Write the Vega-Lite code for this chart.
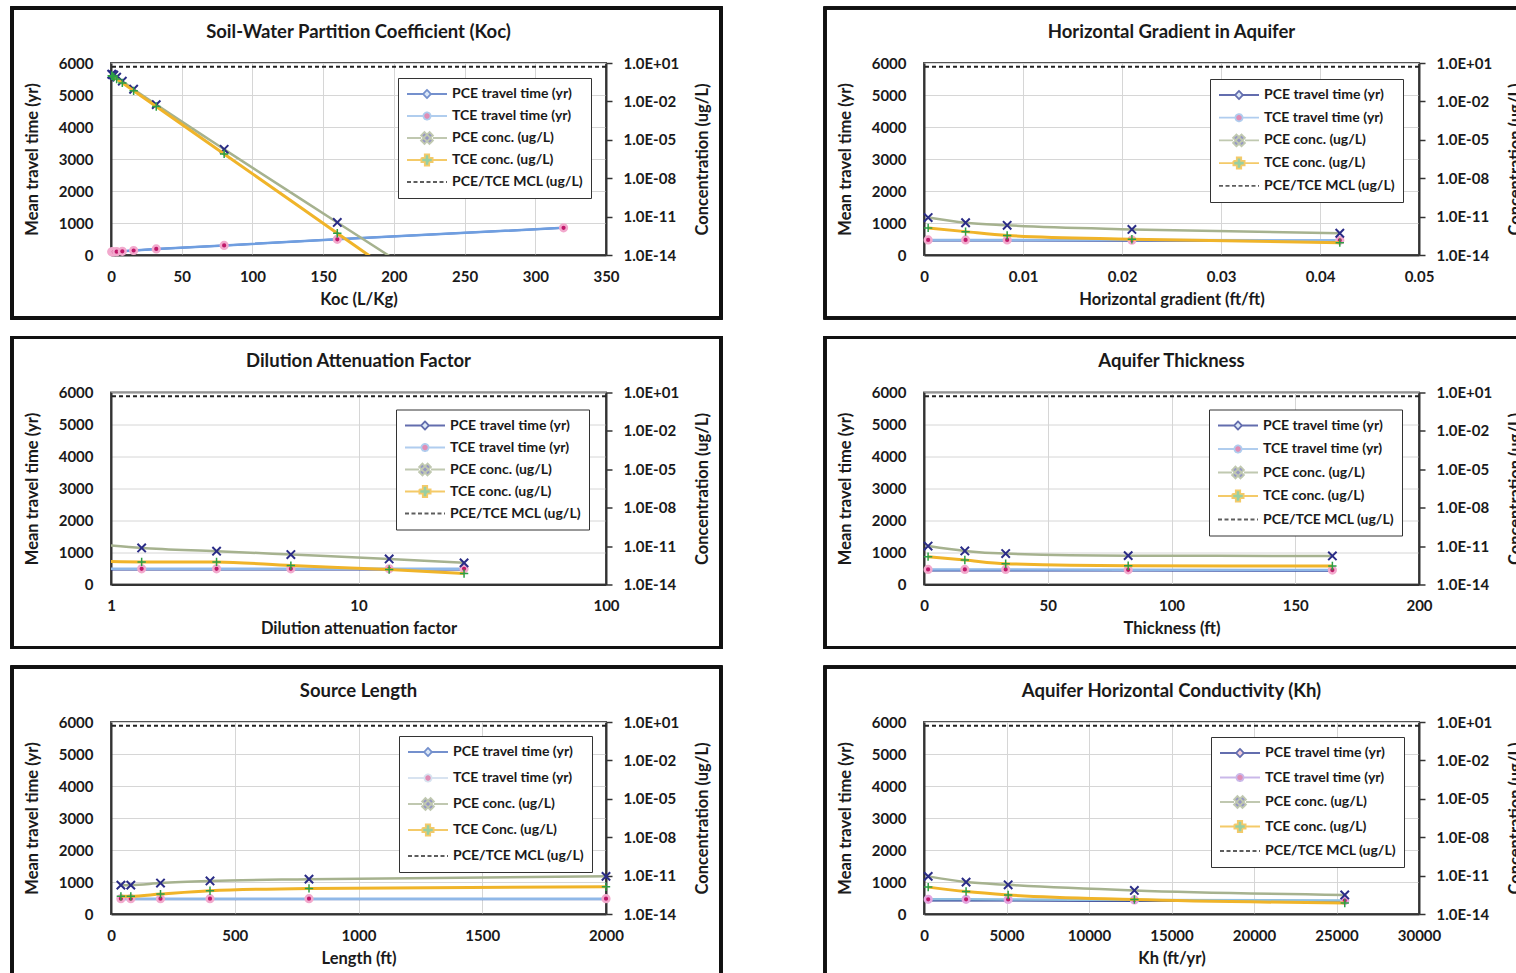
{
  "$schema": "https://vega.github.io/schema/vega-lite/v6.json",
  "background": "white",
  "padding": {"left": 9, "top": 5, "right": 0, "bottom": 0},
  "datasets": {
    "pts": [
      {"panel": "koc", "x": 0.5, "pce_tt": 100, "tce_tt": 100, "pce_c": 1.33, "tce_c": 1.0},
      {"panel": "koc", "x": 1, "pce_tt": 100, "tce_tt": 100, "pce_c": 1.26, "tce_c": 0.94},
      {"panel": "koc", "x": 2, "pce_tt": 100, "tce_tt": 100, "pce_c": 1.12, "tce_c": 0.79},
      {"panel": "koc", "x": 4, "pce_tt": 105, "tce_tt": 105, "pce_c": 0.79, "tce_c": 0.56},
      {"panel": "koc", "x": 8, "pce_tt": 115, "tce_tt": 115, "pce_c": 0.38, "tce_c": 0.28},
      {"panel": "koc", "x": 16, "pce_tt": 140, "tce_tt": 140, "pce_c": 0.089, "tce_c": 0.067},
      {"panel": "koc", "x": 32, "pce_tt": 190, "tce_tt": 190, "pce_c": 0.0056, "tce_c": 0.004},
      {"panel": "koc", "x": 80, "pce_tt": 300, "tce_tt": 300, "pce_c": 1.8e-6, "tce_c": 7.9e-7},
      {"panel": "koc", "x": 160, "pce_tt": 490, "tce_tt": 490, "pce_c": 3.5e-12, "tce_c": 5e-13},
      {"panel": "koc", "x": 320, "pce_tt": 850, "tce_tt": 850, "pce_c": 1.4e-23, "tce_c": 2e-25},
      {"panel": "grad", "x": 0.00042, "pce_tt": 450, "tce_tt": 470, "pce_c": 8.4e-12, "tce_c": 1.3e-12},
      {"panel": "grad", "x": 0.0042, "pce_tt": 450, "tce_tt": 470, "pce_c": 3.3e-12, "tce_c": 6.7e-13},
      {"panel": "grad", "x": 0.0084, "pce_tt": 450, "tce_tt": 470, "pce_c": 2.1e-12, "tce_c": 3.4e-13},
      {"panel": "grad", "x": 0.021, "pce_tt": 445, "tce_tt": 465, "pce_c": 1.0e-12, "tce_c": 1.7e-13},
      {"panel": "grad", "x": 0.042, "pce_tt": 440, "tce_tt": 460, "pce_c": 5.0e-13, "tce_c": 9.2e-14},
      {"panel": "daf", "x": 1, "pce_tt": 470, "tce_tt": 490, "pce_c": 1.1e-11, "tce_c": 6.2e-13},
      {"panel": "daf", "x": 1.33, "pce_tt": 470, "tce_tt": 490, "pce_c": 7.2e-12, "tce_c": 5.8e-13},
      {"panel": "daf", "x": 2.67, "pce_tt": 470, "tce_tt": 490, "pce_c": 4.0e-12, "tce_c": 5.8e-13},
      {"panel": "daf", "x": 5.33, "pce_tt": 470, "tce_tt": 490, "pce_c": 2.2e-12, "tce_c": 3.0e-13},
      {"panel": "daf", "x": 13.3, "pce_tt": 470, "tce_tt": 490, "pce_c": 1.0e-12, "tce_c": 1.5e-13},
      {"panel": "daf", "x": 26.7, "pce_tt": 470, "tce_tt": 490, "pce_c": 4.9e-13, "tce_c": 7.2e-14},
      {"panel": "thick", "x": 1.65, "pce_tt": 440, "tce_tt": 470, "pce_c": 1.0e-11, "tce_c": 1.5e-12},
      {"panel": "thick", "x": 16.5, "pce_tt": 440, "tce_tt": 470, "pce_c": 4.2e-12, "tce_c": 8.2e-13},
      {"panel": "thick", "x": 33, "pce_tt": 440, "tce_tt": 470, "pce_c": 2.6e-12, "tce_c": 4.2e-13},
      {"panel": "thick", "x": 82.5, "pce_tt": 435, "tce_tt": 460, "pce_c": 1.8e-12, "tce_c": 2.9e-13},
      {"panel": "thick", "x": 165, "pce_tt": 430, "tce_tt": 450, "pce_c": 1.7e-12, "tce_c": 2.8e-13},
      {"panel": "len", "x": 40, "pce_tt": 460, "tce_tt": 480, "pce_c": 1.8e-12, "tce_c": 2.4e-13},
      {"panel": "len", "x": 80, "pce_tt": 460, "tce_tt": 480, "pce_c": 1.8e-12, "tce_c": 2.4e-13},
      {"panel": "len", "x": 200, "pce_tt": 460, "tce_tt": 480, "pce_c": 2.6e-12, "tce_c": 3.6e-13},
      {"panel": "len", "x": 400, "pce_tt": 460, "tce_tt": 480, "pce_c": 3.8e-12, "tce_c": 6.6e-13},
      {"panel": "len", "x": 800, "pce_tt": 460, "tce_tt": 480, "pce_c": 5.3e-12, "tce_c": 1.0e-12},
      {"panel": "len", "x": 2000, "pce_tt": 460, "tce_tt": 480, "pce_c": 8.7e-12, "tce_c": 1.35e-12},
      {"panel": "kh", "x": 255, "pce_tt": 420, "tce_tt": 460, "pce_c": 8.7e-12, "tce_c": 1.26e-12},
      {"panel": "kh", "x": 2550, "pce_tt": 420, "tce_tt": 460, "pce_c": 3.1e-12, "tce_c": 5.7e-13},
      {"panel": "kh", "x": 5100, "pce_tt": 420, "tce_tt": 455, "pce_c": 1.9e-12, "tce_c": 3.1e-13},
      {"panel": "kh", "x": 12750, "pce_tt": 410, "tce_tt": 440, "pce_c": 6.9e-13, "tce_c": 1.35e-13},
      {"panel": "kh", "x": 25500, "pce_tt": 400, "tce_tt": 420, "pce_c": 3.1e-13, "tce_c": 7.3e-14}
    ],
    "mcl": [
      {"panel": "koc", "mcl": 5},
      {"panel": "grad", "mcl": 5},
      {"panel": "daf", "mcl": 5},
      {"panel": "thick", "mcl": 5},
      {"panel": "len", "mcl": 5},
      {"panel": "kh", "mcl": 5}
    ]
  },
  "data": {"name": "pts"},
  "spacing": 13.5,
  "resolve": {"scale": {"stroke": "independent", "fill": "independent", "shape": "independent", "strokeDash": "independent"}},
  "vconcat": [
    {
      "spacing": 98,
      "resolve": {"scale": {"stroke": "independent", "fill": "independent", "shape": "independent", "strokeDash": "independent"}},
      "hconcat": [
        {
          "title": {"text": "Soil-Water Partition Coefficient (Koc)"},
          "width": 495, "height": 192,
          "transform": [{"filter": "datum.panel === 'koc'"}],
          "layer": [
            {
              "encoding": {"x": {"field": "x", "type": "quantitative", "scale": {"domain": [0, 350], "nice": false, "zero": false}, "axis": {"values": [0, 50, 100, 150, 200, 250, 300, 350], "format": "d", "title": "Koc (L/Kg)"}}},
              "layer": [
                {"mark": {"type": "rect", "filled": false, "stroke": "#111", "strokeWidth": 3, "clip": false},
                 "encoding": {"x": {"datum": -70, "type": "quantitative", "scale": {"domain": [0, 350], "nice": false, "zero": false}, "axis": {"values": [0, 50, 100, 150, 200, 250, 300, 350], "format": "d", "title": "Koc (L/Kg)"}}, "x2": {"datum": 431.3},
                   "y": {"datum": 7719, "type": "quantitative", "scale": {"domain": [0, 6000], "nice": false, "zero": false}, "axis": {"orient": "left", "values": [0, 1000, 2000, 3000, 4000, 5000, 6000], "format": "d", "title": "Mean travel time (yr)"}}, "y2": {"datum": -1969}}},
                {"mark": {"type": "line", "color": "#4a72c0", "strokeWidth": 2},
                 "encoding": {"y": {"field": "pce_tt", "type": "quantitative", "scale": {"domain": [0, 6000], "nice": false, "zero": false}, "axis": {"orient": "left", "values": [0, 1000, 2000, 3000, 4000, 5000, 6000], "format": "d", "title": "Mean travel time (yr)"}}}},
                {"mark": {"type": "point", "shape": "diamond", "filled": true, "color": "#a9c6ee", "size": 25, "opacity": 1},
                 "encoding": {"y": {"field": "pce_tt", "type": "quantitative", "scale": {"domain": [0, 6000], "nice": false, "zero": false}, "axis": {"orient": "left", "values": [0, 1000, 2000, 3000, 4000, 5000, 6000], "format": "d", "title": "Mean travel time (yr)"}}}},
                {"mark": {"type": "line", "color": "#6f9ee0", "strokeWidth": 2.5},
                 "encoding": {"y": {"field": "tce_tt", "type": "quantitative", "scale": {"domain": [0, 6000], "nice": false, "zero": false}, "axis": {"orient": "left", "values": [0, 1000, 2000, 3000, 4000, 5000, 6000], "format": "d", "title": "Mean travel time (yr)"}}}},
                {"mark": {"type": "point", "shape": "circle", "filled": true, "fill": "#c0186a", "stroke": "#f2a9cd", "strokeWidth": 2.5, "size": 45, "opacity": 1},
                 "encoding": {"y": {"field": "tce_tt", "type": "quantitative", "scale": {"domain": [0, 6000], "nice": false, "zero": false}, "axis": {"orient": "left", "values": [0, 1000, 2000, 3000, 4000, 5000, 6000], "format": "d", "title": "Mean travel time (yr)"}}}}
              ]
            },
            {
              "encoding": {"x": {"field": "x", "type": "quantitative", "scale": {"domain": [0, 350], "nice": false, "zero": false}, "axis": {"values": [0, 50, 100, 150, 200, 250, 300, 350], "format": "d", "title": "Koc (L/Kg)"}}},
              "layer": [
                {"mark": {"type": "line", "color": "#a6b28f", "strokeWidth": 2.5, "interpolate": "monotone", "clip": true},
                 "encoding": {"y": {"field": "pce_c", "type": "quantitative", "scale": {"type": "log", "domain": [1e-14, 10], "nice": false}, "axis": {"orient": "right", "values": [1e-14, 1e-11, 1e-8, 1e-5, 0.01, 10], "title": "Concentration (ug/L)", "titleAngle": 270, "labelExpr": "'1.0E' + (round(log(datum.value) / LN10) >= 0 ? '+' : '-') + pad(toString(abs(round(log(datum.value) / LN10))), 2, '0', 'left')"}}}},
                {"transform": [{"filter": "datum.pce_c >= 1e-14"}],
                 "mark": {"type": "point", "shape": "M-1,-1L1,1M-1,1L1,-1", "filled": false, "color": "#2a2c86", "strokeWidth": 2, "size": 70, "opacity": 1},
                 "encoding": {"y": {"field": "pce_c", "type": "quantitative", "scale": {"type": "log", "domain": [1e-14, 10], "nice": false}, "axis": {"orient": "right", "values": [1e-14, 1e-11, 1e-8, 1e-5, 0.01, 10], "title": "Concentration (ug/L)", "titleAngle": 270, "labelExpr": "'1.0E' + (round(log(datum.value) / LN10) >= 0 ? '+' : '-') + pad(toString(abs(round(log(datum.value) / LN10))), 2, '0', 'left')"}}}},
                {"mark": {"type": "line", "color": "#f0b429", "strokeWidth": 3, "interpolate": "monotone", "clip": true},
                 "encoding": {"y": {"field": "tce_c", "type": "quantitative", "scale": {"type": "log", "domain": [1e-14, 10], "nice": false}, "axis": {"orient": "right", "values": [1e-14, 1e-11, 1e-8, 1e-5, 0.01, 10], "title": "Concentration (ug/L)", "titleAngle": 270, "labelExpr": "'1.0E' + (round(log(datum.value) / LN10) >= 0 ? '+' : '-') + pad(toString(abs(round(log(datum.value) / LN10))), 2, '0', 'left')"}}}},
                {"transform": [{"filter": "datum.tce_c >= 1e-14"}],
                 "mark": {"type": "point", "shape": "M-1,0H1M0,-1V1", "filled": false, "color": "#2e9e46", "strokeWidth": 1.5, "size": 70, "opacity": 1},
                 "encoding": {"y": {"field": "tce_c", "type": "quantitative", "scale": {"type": "log", "domain": [1e-14, 10], "nice": false}, "axis": {"orient": "right", "values": [1e-14, 1e-11, 1e-8, 1e-5, 0.01, 10], "title": "Concentration (ug/L)", "titleAngle": 270, "labelExpr": "'1.0E' + (round(log(datum.value) / LN10) >= 0 ? '+' : '-') + pad(toString(abs(round(log(datum.value) / LN10))), 2, '0', 'left')"}}}},
                {"transform": [{"filter": "false"}],
                 "mark": {"type": "point", "filled": true, "strokeWidth": 1.8},
                 "encoding": {
                   "stroke": {"field": "series", "type": "nominal", "scale": {"domain": ["PCE travel time (yr)", "TCE travel time (yr)", "PCE conc. (ug/L)", "TCE conc. (ug/L)", "PCE/TCE MCL (ug/L)"], "range": ["#3a62b8", "#8fb8e8", "#a6b28f", "#f0b429", "#1a1a1a"]},
                     "legend": {"title": null, "orient": "top-right", "offset": 15, "padding": 8, "strokeColor": "#333", "fillColor": "#ffffff", "symbolSize": 1600, "symbolStrokeWidth": 1.8, "clipHeight": 16, "rowPadding": 6, "labelFont": "Lato", "labelFontSize": 14, "labelFontWeight": "bold", "labelColor": "#1a1a1a", "labelOffset": 4, "labelLimit": 300}},
                   "fill": {"field": "series", "type": "nominal", "scale": {"domain": ["PCE travel time (yr)", "TCE travel time (yr)", "PCE conc. (ug/L)", "TCE conc. (ug/L)", "PCE/TCE MCL (ug/L)"], "range": ["#b8d0f0", "#c0186a", "#2a2c86", "#2e9e46", "transparent"]},
                     "legend": {"title": null, "orient": "top-right", "offset": 15, "padding": 8, "strokeColor": "#333", "fillColor": "#ffffff", "symbolSize": 1600, "symbolStrokeWidth": 1.8, "clipHeight": 16, "rowPadding": 6, "labelFont": "Lato", "labelFontSize": 14, "labelFontWeight": "bold", "labelColor": "#1a1a1a", "labelOffset": 4, "labelLimit": 300}},
                   "shape": {"field": "series", "type": "nominal", "scale": {"domain": ["PCE travel time (yr)", "TCE travel time (yr)", "PCE conc. (ug/L)", "TCE conc. (ug/L)", "PCE/TCE MCL (ug/L)"], "range": ["M-1,0H-0.2M0.2,0H1M0,-0.2L0.2,0L0,0.2L-0.2,0Z", "M-1,0H-0.18M0.18,0H1M0.18,0A0.18,0.18 0 1,1 -0.18,0A0.18,0.18 0 1,1 0.18,0Z", "M-1,0H-0.3M0.3,0H1M0.127,0.297L0.297,0.127L-0.127,-0.297L-0.297,-0.127ZM0.127,-0.297L-0.297,0.127L-0.127,0.297L0.297,-0.127Z", "M-1,0H-0.28M0.28,0H1M-0.11,-0.28H0.11V-0.11H0.28V0.11H0.11V0.28H-0.11V0.11H-0.28V-0.11H-0.11Z", "M-1,0H1"]},
                     "legend": {"title": null, "orient": "top-right", "offset": 15, "padding": 8, "strokeColor": "#333", "fillColor": "#ffffff", "symbolSize": 1600, "symbolStrokeWidth": 1.8, "clipHeight": 16, "rowPadding": 6, "labelFont": "Lato", "labelFontSize": 14, "labelFontWeight": "bold", "labelColor": "#1a1a1a", "labelOffset": 4, "labelLimit": 300}},
                   "strokeDash": {"field": "series", "type": "nominal", "scale": {"domain": ["PCE travel time (yr)", "TCE travel time (yr)", "PCE conc. (ug/L)", "TCE conc. (ug/L)", "PCE/TCE MCL (ug/L)"], "range": [[1, 0], [1, 0], [1, 0], [1, 0], [4, 2.5]]},
                     "legend": {"title": null, "orient": "top-right", "offset": 15, "padding": 8, "strokeColor": "#333", "fillColor": "#ffffff", "symbolSize": 1600, "symbolStrokeWidth": 1.8, "clipHeight": 16, "rowPadding": 6, "labelFont": "Lato", "labelFontSize": 14, "labelFontWeight": "bold", "labelColor": "#1a1a1a", "labelOffset": 4, "labelLimit": 300}}
                 }}
              ]
            },
            {"data": {"name": "mcl"}, "transform": [{"filter": "datum.panel === 'koc'"}],
             "mark": {"type": "rule", "color": "#222", "strokeWidth": 2, "strokeDash": [4, 3]},
             "encoding": {"y": {"field": "mcl", "type": "quantitative", "scale": {"type": "log", "domain": [1e-14, 10], "nice": false}, "axis": null}}}
          ],
          "resolve": {"scale": {"y": "independent"}}
        },
        {
          "title": {"text": "Horizontal Gradient in Aquifer"},
          "width": 495, "height": 192,
          "transform": [{"filter": "datum.panel === 'grad'"}],
          "layer": [
            {
              "encoding": {"x": {"field": "x", "type": "quantitative", "scale": {"domain": [0, 0.05], "nice": false, "zero": false}, "axis": {"values": [0, 0.01, 0.02, 0.03, 0.04, 0.05], "format": ".2~f", "title": "Horizontal gradient (ft/ft)"}}},
              "layer": [
                {"mark": {"type": "rect", "filled": false, "stroke": "#111", "strokeWidth": 3, "clip": false},
                 "encoding": {"x": {"datum": -0.01, "type": "quantitative", "scale": {"domain": [0, 0.05], "nice": false, "zero": false}, "axis": {"values": [0, 0.01, 0.02, 0.03, 0.04, 0.05], "format": ".2~f", "title": "Horizontal gradient (ft/ft)"}}, "x2": {"datum": 0.0616},
                   "y": {"datum": 7719, "type": "quantitative", "scale": {"domain": [0, 6000], "nice": false, "zero": false}, "axis": {"orient": "left", "values": [0, 1000, 2000, 3000, 4000, 5000, 6000], "format": "d", "title": "Mean travel time (yr)"}}, "y2": {"datum": -1969}}},
                {"mark": {"type": "line", "color": "#2b3c98", "strokeWidth": 2},
                 "encoding": {"y": {"field": "pce_tt", "type": "quantitative", "scale": {"domain": [0, 6000], "nice": false, "zero": false}, "axis": {"orient": "left", "values": [0, 1000, 2000, 3000, 4000, 5000, 6000], "format": "d", "title": "Mean travel time (yr)"}}}},
                {"mark": {"type": "point", "shape": "diamond", "filled": true, "color": "#a9c6ee", "size": 25, "opacity": 1},
                 "encoding": {"y": {"field": "pce_tt", "type": "quantitative", "scale": {"domain": [0, 6000], "nice": false, "zero": false}, "axis": {"orient": "left", "values": [0, 1000, 2000, 3000, 4000, 5000, 6000], "format": "d", "title": "Mean travel time (yr)"}}}},
                {"mark": {"type": "line", "color": "#8fb8e8", "strokeWidth": 2.5},
                 "encoding": {"y": {"field": "tce_tt", "type": "quantitative", "scale": {"domain": [0, 6000], "nice": false, "zero": false}, "axis": {"orient": "left", "values": [0, 1000, 2000, 3000, 4000, 5000, 6000], "format": "d", "title": "Mean travel time (yr)"}}}},
                {"mark": {"type": "point", "shape": "circle", "filled": true, "fill": "#c0186a", "stroke": "#f2a9cd", "strokeWidth": 2.5, "size": 45, "opacity": 1},
                 "encoding": {"y": {"field": "tce_tt", "type": "quantitative", "scale": {"domain": [0, 6000], "nice": false, "zero": false}, "axis": {"orient": "left", "values": [0, 1000, 2000, 3000, 4000, 5000, 6000], "format": "d", "title": "Mean travel time (yr)"}}}}
              ]
            },
            {
              "encoding": {"x": {"field": "x", "type": "quantitative", "scale": {"domain": [0, 0.05], "nice": false, "zero": false}, "axis": {"values": [0, 0.01, 0.02, 0.03, 0.04, 0.05], "format": ".2~f", "title": "Horizontal gradient (ft/ft)"}}},
              "layer": [
                {"mark": {"type": "line", "color": "#a6b28f", "strokeWidth": 2.5, "interpolate": "monotone", "clip": true},
                 "encoding": {"y": {"field": "pce_c", "type": "quantitative", "scale": {"type": "log", "domain": [1e-14, 10], "nice": false}, "axis": {"orient": "right", "values": [1e-14, 1e-11, 1e-8, 1e-5, 0.01, 10], "title": "Concentration (ug/L)", "titleAngle": 270, "labelExpr": "'1.0E' + (round(log(datum.value) / LN10) >= 0 ? '+' : '-') + pad(toString(abs(round(log(datum.value) / LN10))), 2, '0', 'left')"}}}},
                {"mark": {"type": "point", "shape": "M-1,-1L1,1M-1,1L1,-1", "filled": false, "color": "#2a2c86", "strokeWidth": 2, "size": 70, "opacity": 1},
                 "encoding": {"y": {"field": "pce_c", "type": "quantitative", "scale": {"type": "log", "domain": [1e-14, 10], "nice": false}, "axis": {"orient": "right", "values": [1e-14, 1e-11, 1e-8, 1e-5, 0.01, 10], "title": "Concentration (ug/L)", "titleAngle": 270, "labelExpr": "'1.0E' + (round(log(datum.value) / LN10) >= 0 ? '+' : '-') + pad(toString(abs(round(log(datum.value) / LN10))), 2, '0', 'left')"}}}},
                {"mark": {"type": "line", "color": "#f0b429", "strokeWidth": 3, "interpolate": "monotone", "clip": true},
                 "encoding": {"y": {"field": "tce_c", "type": "quantitative", "scale": {"type": "log", "domain": [1e-14, 10], "nice": false}, "axis": {"orient": "right", "values": [1e-14, 1e-11, 1e-8, 1e-5, 0.01, 10], "title": "Concentration (ug/L)", "titleAngle": 270, "labelExpr": "'1.0E' + (round(log(datum.value) / LN10) >= 0 ? '+' : '-') + pad(toString(abs(round(log(datum.value) / LN10))), 2, '0', 'left')"}}}},
                {"mark": {"type": "point", "shape": "M-1,0H1M0,-1V1", "filled": false, "color": "#2e9e46", "strokeWidth": 1.5, "size": 70, "opacity": 1},
                 "encoding": {"y": {"field": "tce_c", "type": "quantitative", "scale": {"type": "log", "domain": [1e-14, 10], "nice": false}, "axis": {"orient": "right", "values": [1e-14, 1e-11, 1e-8, 1e-5, 0.01, 10], "title": "Concentration (ug/L)", "titleAngle": 270, "labelExpr": "'1.0E' + (round(log(datum.value) / LN10) >= 0 ? '+' : '-') + pad(toString(abs(round(log(datum.value) / LN10))), 2, '0', 'left')"}}}},
                {"transform": [{"filter": "false"}],
                 "mark": {"type": "point", "filled": true, "strokeWidth": 1.8},
                 "encoding": {
                   "stroke": {"field": "series", "type": "nominal", "scale": {"domain": ["PCE travel time (yr)", "TCE travel time (yr)", "PCE conc. (ug/L)", "TCE conc. (ug/L)", "PCE/TCE MCL (ug/L)"], "range": ["#22308c", "#8fb8e8", "#a6b28f", "#f0b429", "#1a1a1a"]},
                     "legend": {"title": null, "orient": "top-right", "offset": 16, "padding": 8, "strokeColor": "#333", "fillColor": "#ffffff", "symbolSize": 1600, "symbolStrokeWidth": 1.8, "clipHeight": 16, "rowPadding": 6.7, "labelFont": "Lato", "labelFontSize": 14, "labelFontWeight": "bold", "labelColor": "#1a1a1a", "labelOffset": 4, "labelLimit": 300}},
                   "fill": {"field": "series", "type": "nominal", "scale": {"domain": ["PCE travel time (yr)", "TCE travel time (yr)", "PCE conc. (ug/L)", "TCE conc. (ug/L)", "PCE/TCE MCL (ug/L)"], "range": ["#b8d0f0", "#c0186a", "#2a2c86", "#2e9e46", "transparent"]},
                     "legend": {"title": null, "orient": "top-right", "offset": 16, "padding": 8, "strokeColor": "#333", "fillColor": "#ffffff", "symbolSize": 1600, "symbolStrokeWidth": 1.8, "clipHeight": 16, "rowPadding": 6.7, "labelFont": "Lato", "labelFontSize": 14, "labelFontWeight": "bold", "labelColor": "#1a1a1a", "labelOffset": 4, "labelLimit": 300}},
                   "shape": {"field": "series", "type": "nominal", "scale": {"domain": ["PCE travel time (yr)", "TCE travel time (yr)", "PCE conc. (ug/L)", "TCE conc. (ug/L)", "PCE/TCE MCL (ug/L)"], "range": ["M-1,0H-0.2M0.2,0H1M0,-0.2L0.2,0L0,0.2L-0.2,0Z", "M-1,0H-0.18M0.18,0H1M0.18,0A0.18,0.18 0 1,1 -0.18,0A0.18,0.18 0 1,1 0.18,0Z", "M-1,0H-0.3M0.3,0H1M0.127,0.297L0.297,0.127L-0.127,-0.297L-0.297,-0.127ZM0.127,-0.297L-0.297,0.127L-0.127,0.297L0.297,-0.127Z", "M-1,0H-0.28M0.28,0H1M-0.11,-0.28H0.11V-0.11H0.28V0.11H0.11V0.28H-0.11V0.11H-0.28V-0.11H-0.11Z", "M-1,0H1"]},
                     "legend": {"title": null, "orient": "top-right", "offset": 16, "padding": 8, "strokeColor": "#333", "fillColor": "#ffffff", "symbolSize": 1600, "symbolStrokeWidth": 1.8, "clipHeight": 16, "rowPadding": 6.7, "labelFont": "Lato", "labelFontSize": 14, "labelFontWeight": "bold", "labelColor": "#1a1a1a", "labelOffset": 4, "labelLimit": 300}},
                   "strokeDash": {"field": "series", "type": "nominal", "scale": {"domain": ["PCE travel time (yr)", "TCE travel time (yr)", "PCE conc. (ug/L)", "TCE conc. (ug/L)", "PCE/TCE MCL (ug/L)"], "range": [[1, 0], [1, 0], [1, 0], [1, 0], [4, 2.5]]},
                     "legend": {"title": null, "orient": "top-right", "offset": 16, "padding": 8, "strokeColor": "#333", "fillColor": "#ffffff", "symbolSize": 1600, "symbolStrokeWidth": 1.8, "clipHeight": 16, "rowPadding": 6.7, "labelFont": "Lato", "labelFontSize": 14, "labelFontWeight": "bold", "labelColor": "#1a1a1a", "labelOffset": 4, "labelLimit": 300}}
                 }}
              ]
            },
            {"data": {"name": "mcl"}, "transform": [{"filter": "datum.panel === 'grad'"}],
             "mark": {"type": "rule", "color": "#222", "strokeWidth": 2, "strokeDash": [4, 3]},
             "encoding": {"y": {"field": "mcl", "type": "quantitative", "scale": {"type": "log", "domain": [1e-14, 10], "nice": false}, "axis": null}}}
          ],
          "resolve": {"scale": {"y": "independent"}}
        }
      ]
    },
    {
      "spacing": 98,
      "resolve": {"scale": {"stroke": "independent", "fill": "independent", "shape": "independent", "strokeDash": "independent"}},
      "hconcat": [
        {
          "title": {"text": "Dilution Attenuation Factor"},
          "width": 495, "height": 192,
          "transform": [{"filter": "datum.panel === 'daf'"}],
          "layer": [
            {
              "encoding": {"x": {"field": "x", "type": "quantitative", "scale": {"type": "log", "domain": [1, 100], "nice": false}, "axis": {"values": [1, 10, 100], "format": "~g", "title": "Dilution attenuation factor"}}},
              "layer": [
                {"mark": {"type": "rect", "filled": false, "stroke": "#111", "strokeWidth": 3, "clip": false},
                 "encoding": {"x": {"datum": 0.398, "type": "quantitative", "scale": {"type": "log", "domain": [1, 100], "nice": false}, "axis": {"values": [1, 10, 100], "format": "~g", "title": "Dilution attenuation factor"}}, "x2": {"datum": 291.5},
                   "y": {"datum": 7719, "type": "quantitative", "scale": {"domain": [0, 6000], "nice": false, "zero": false}, "axis": {"orient": "left", "values": [0, 1000, 2000, 3000, 4000, 5000, 6000], "format": "d", "title": "Mean travel time (yr)"}}, "y2": {"datum": -1969}}},
                {"mark": {"type": "line", "color": "#2b3c98", "strokeWidth": 2},
                 "encoding": {"y": {"field": "pce_tt", "type": "quantitative", "scale": {"domain": [0, 6000], "nice": false, "zero": false}, "axis": {"orient": "left", "values": [0, 1000, 2000, 3000, 4000, 5000, 6000], "format": "d", "title": "Mean travel time (yr)"}}}},
                {"transform": [{"filter": "datum.x > 1"}],
                 "mark": {"type": "point", "shape": "diamond", "filled": true, "color": "#a9c6ee", "size": 25, "opacity": 1},
                 "encoding": {"y": {"field": "pce_tt", "type": "quantitative", "scale": {"domain": [0, 6000], "nice": false, "zero": false}, "axis": {"orient": "left", "values": [0, 1000, 2000, 3000, 4000, 5000, 6000], "format": "d", "title": "Mean travel time (yr)"}}}},
                {"mark": {"type": "line", "color": "#8fb8e8", "strokeWidth": 2.5},
                 "encoding": {"y": {"field": "tce_tt", "type": "quantitative", "scale": {"domain": [0, 6000], "nice": false, "zero": false}, "axis": {"orient": "left", "values": [0, 1000, 2000, 3000, 4000, 5000, 6000], "format": "d", "title": "Mean travel time (yr)"}}}},
                {"transform": [{"filter": "datum.x > 1"}],
                 "mark": {"type": "point", "shape": "circle", "filled": true, "fill": "#c0186a", "stroke": "#f2a9cd", "strokeWidth": 2.5, "size": 45, "opacity": 1},
                 "encoding": {"y": {"field": "tce_tt", "type": "quantitative", "scale": {"domain": [0, 6000], "nice": false, "zero": false}, "axis": {"orient": "left", "values": [0, 1000, 2000, 3000, 4000, 5000, 6000], "format": "d", "title": "Mean travel time (yr)"}}}}
              ]
            },
            {
              "encoding": {"x": {"field": "x", "type": "quantitative", "scale": {"type": "log", "domain": [1, 100], "nice": false}, "axis": {"values": [1, 10, 100], "format": "~g", "title": "Dilution attenuation factor"}}},
              "layer": [
                {"mark": {"type": "line", "color": "#a6b28f", "strokeWidth": 2.5, "interpolate": "monotone", "clip": true},
                 "encoding": {"y": {"field": "pce_c", "type": "quantitative", "scale": {"type": "log", "domain": [1e-14, 10], "nice": false}, "axis": {"orient": "right", "values": [1e-14, 1e-11, 1e-8, 1e-5, 0.01, 10], "title": "Concentration (ug/L)", "titleAngle": 270, "labelExpr": "'1.0E' + (round(log(datum.value) / LN10) >= 0 ? '+' : '-') + pad(toString(abs(round(log(datum.value) / LN10))), 2, '0', 'left')"}}}},
                {"transform": [{"filter": "datum.x > 1"}],
                 "mark": {"type": "point", "shape": "M-1,-1L1,1M-1,1L1,-1", "filled": false, "color": "#2a2c86", "strokeWidth": 2, "size": 70, "opacity": 1},
                 "encoding": {"y": {"field": "pce_c", "type": "quantitative", "scale": {"type": "log", "domain": [1e-14, 10], "nice": false}, "axis": {"orient": "right", "values": [1e-14, 1e-11, 1e-8, 1e-5, 0.01, 10], "title": "Concentration (ug/L)", "titleAngle": 270, "labelExpr": "'1.0E' + (round(log(datum.value) / LN10) >= 0 ? '+' : '-') + pad(toString(abs(round(log(datum.value) / LN10))), 2, '0', 'left')"}}}},
                {"mark": {"type": "line", "color": "#f0b429", "strokeWidth": 3, "interpolate": "monotone", "clip": true},
                 "encoding": {"y": {"field": "tce_c", "type": "quantitative", "scale": {"type": "log", "domain": [1e-14, 10], "nice": false}, "axis": {"orient": "right", "values": [1e-14, 1e-11, 1e-8, 1e-5, 0.01, 10], "title": "Concentration (ug/L)", "titleAngle": 270, "labelExpr": "'1.0E' + (round(log(datum.value) / LN10) >= 0 ? '+' : '-') + pad(toString(abs(round(log(datum.value) / LN10))), 2, '0', 'left')"}}}},
                {"transform": [{"filter": "datum.x > 1"}],
                 "mark": {"type": "point", "shape": "M-1,0H1M0,-1V1", "filled": false, "color": "#2e9e46", "strokeWidth": 1.5, "size": 70, "opacity": 1},
                 "encoding": {"y": {"field": "tce_c", "type": "quantitative", "scale": {"type": "log", "domain": [1e-14, 10], "nice": false}, "axis": {"orient": "right", "values": [1e-14, 1e-11, 1e-8, 1e-5, 0.01, 10], "title": "Concentration (ug/L)", "titleAngle": 270, "labelExpr": "'1.0E' + (round(log(datum.value) / LN10) >= 0 ? '+' : '-') + pad(toString(abs(round(log(datum.value) / LN10))), 2, '0', 'left')"}}}},
                {"transform": [{"filter": "false"}],
                 "mark": {"type": "point", "filled": true, "strokeWidth": 1.8},
                 "encoding": {
                   "stroke": {"field": "series", "type": "nominal", "scale": {"domain": ["PCE travel time (yr)", "TCE travel time (yr)", "PCE conc. (ug/L)", "TCE conc. (ug/L)", "PCE/TCE MCL (ug/L)"], "range": ["#22308c", "#8fb8e8", "#a6b28f", "#f0b429", "#1a1a1a"]},
                     "legend": {"title": null, "orient": "top-right", "offset": 17, "padding": 8, "strokeColor": "#333", "fillColor": "#ffffff", "symbolSize": 1600, "symbolStrokeWidth": 1.8, "clipHeight": 16, "rowPadding": 6, "labelFont": "Lato", "labelFontSize": 14, "labelFontWeight": "bold", "labelColor": "#1a1a1a", "labelOffset": 4, "labelLimit": 300}},
                   "fill": {"field": "series", "type": "nominal", "scale": {"domain": ["PCE travel time (yr)", "TCE travel time (yr)", "PCE conc. (ug/L)", "TCE conc. (ug/L)", "PCE/TCE MCL (ug/L)"], "range": ["#b8d0f0", "#c0186a", "#2a2c86", "#2e9e46", "transparent"]},
                     "legend": {"title": null, "orient": "top-right", "offset": 17, "padding": 8, "strokeColor": "#333", "fillColor": "#ffffff", "symbolSize": 1600, "symbolStrokeWidth": 1.8, "clipHeight": 16, "rowPadding": 6, "labelFont": "Lato", "labelFontSize": 14, "labelFontWeight": "bold", "labelColor": "#1a1a1a", "labelOffset": 4, "labelLimit": 300}},
                   "shape": {"field": "series", "type": "nominal", "scale": {"domain": ["PCE travel time (yr)", "TCE travel time (yr)", "PCE conc. (ug/L)", "TCE conc. (ug/L)", "PCE/TCE MCL (ug/L)"], "range": ["M-1,0H-0.2M0.2,0H1M0,-0.2L0.2,0L0,0.2L-0.2,0Z", "M-1,0H-0.18M0.18,0H1M0.18,0A0.18,0.18 0 1,1 -0.18,0A0.18,0.18 0 1,1 0.18,0Z", "M-1,0H-0.3M0.3,0H1M0.127,0.297L0.297,0.127L-0.127,-0.297L-0.297,-0.127ZM0.127,-0.297L-0.297,0.127L-0.127,0.297L0.297,-0.127Z", "M-1,0H-0.28M0.28,0H1M-0.11,-0.28H0.11V-0.11H0.28V0.11H0.11V0.28H-0.11V0.11H-0.28V-0.11H-0.11Z", "M-1,0H1"]},
                     "legend": {"title": null, "orient": "top-right", "offset": 17, "padding": 8, "strokeColor": "#333", "fillColor": "#ffffff", "symbolSize": 1600, "symbolStrokeWidth": 1.8, "clipHeight": 16, "rowPadding": 6, "labelFont": "Lato", "labelFontSize": 14, "labelFontWeight": "bold", "labelColor": "#1a1a1a", "labelOffset": 4, "labelLimit": 300}},
                   "strokeDash": {"field": "series", "type": "nominal", "scale": {"domain": ["PCE travel time (yr)", "TCE travel time (yr)", "PCE conc. (ug/L)", "TCE conc. (ug/L)", "PCE/TCE MCL (ug/L)"], "range": [[1, 0], [1, 0], [1, 0], [1, 0], [4, 2.5]]},
                     "legend": {"title": null, "orient": "top-right", "offset": 17, "padding": 8, "strokeColor": "#333", "fillColor": "#ffffff", "symbolSize": 1600, "symbolStrokeWidth": 1.8, "clipHeight": 16, "rowPadding": 6, "labelFont": "Lato", "labelFontSize": 14, "labelFontWeight": "bold", "labelColor": "#1a1a1a", "labelOffset": 4, "labelLimit": 300}}
                 }}
              ]
            },
            {"data": {"name": "mcl"}, "transform": [{"filter": "datum.panel === 'daf'"}],
             "mark": {"type": "rule", "color": "#222", "strokeWidth": 2, "strokeDash": [4, 3]},
             "encoding": {"y": {"field": "mcl", "type": "quantitative", "scale": {"type": "log", "domain": [1e-14, 10], "nice": false}, "axis": null}}}
          ],
          "resolve": {"scale": {"y": "independent"}}
        },
        {
          "title": {"text": "Aquifer Thickness"},
          "width": 495, "height": 192,
          "transform": [{"filter": "datum.panel === 'thick'"}],
          "layer": [
            {
              "encoding": {"x": {"field": "x", "type": "quantitative", "scale": {"domain": [0, 200], "nice": false, "zero": false}, "axis": {"values": [0, 50, 100, 150, 200], "format": "d", "title": "Thickness (ft)"}}},
              "layer": [
                {"mark": {"type": "rect", "filled": false, "stroke": "#111", "strokeWidth": 3, "clip": false},
                 "encoding": {"x": {"datum": -40, "type": "quantitative", "scale": {"domain": [0, 200], "nice": false, "zero": false}, "axis": {"values": [0, 50, 100, 150, 200], "format": "d", "title": "Thickness (ft)"}}, "x2": {"datum": 246.5},
                   "y": {"datum": 7719, "type": "quantitative", "scale": {"domain": [0, 6000], "nice": false, "zero": false}, "axis": {"orient": "left", "values": [0, 1000, 2000, 3000, 4000, 5000, 6000], "format": "d", "title": "Mean travel time (yr)"}}, "y2": {"datum": -1969}}},
                {"mark": {"type": "line", "color": "#2b3c98", "strokeWidth": 2},
                 "encoding": {"y": {"field": "pce_tt", "type": "quantitative", "scale": {"domain": [0, 6000], "nice": false, "zero": false}, "axis": {"orient": "left", "values": [0, 1000, 2000, 3000, 4000, 5000, 6000], "format": "d", "title": "Mean travel time (yr)"}}}},
                {"mark": {"type": "point", "shape": "diamond", "filled": true, "color": "#a9c6ee", "size": 25, "opacity": 1},
                 "encoding": {"y": {"field": "pce_tt", "type": "quantitative", "scale": {"domain": [0, 6000], "nice": false, "zero": false}, "axis": {"orient": "left", "values": [0, 1000, 2000, 3000, 4000, 5000, 6000], "format": "d", "title": "Mean travel time (yr)"}}}},
                {"mark": {"type": "line", "color": "#8fb8e8", "strokeWidth": 2.5},
                 "encoding": {"y": {"field": "tce_tt", "type": "quantitative", "scale": {"domain": [0, 6000], "nice": false, "zero": false}, "axis": {"orient": "left", "values": [0, 1000, 2000, 3000, 4000, 5000, 6000], "format": "d", "title": "Mean travel time (yr)"}}}},
                {"mark": {"type": "point", "shape": "circle", "filled": true, "fill": "#c0186a", "stroke": "#f2a9cd", "strokeWidth": 2.5, "size": 45, "opacity": 1},
                 "encoding": {"y": {"field": "tce_tt", "type": "quantitative", "scale": {"domain": [0, 6000], "nice": false, "zero": false}, "axis": {"orient": "left", "values": [0, 1000, 2000, 3000, 4000, 5000, 6000], "format": "d", "title": "Mean travel time (yr)"}}}}
              ]
            },
            {
              "encoding": {"x": {"field": "x", "type": "quantitative", "scale": {"domain": [0, 200], "nice": false, "zero": false}, "axis": {"values": [0, 50, 100, 150, 200], "format": "d", "title": "Thickness (ft)"}}},
              "layer": [
                {"mark": {"type": "line", "color": "#a6b28f", "strokeWidth": 2.5, "interpolate": "monotone", "clip": true},
                 "encoding": {"y": {"field": "pce_c", "type": "quantitative", "scale": {"type": "log", "domain": [1e-14, 10], "nice": false}, "axis": {"orient": "right", "values": [1e-14, 1e-11, 1e-8, 1e-5, 0.01, 10], "title": "Concentration (ug/L)", "titleAngle": 270, "labelExpr": "'1.0E' + (round(log(datum.value) / LN10) >= 0 ? '+' : '-') + pad(toString(abs(round(log(datum.value) / LN10))), 2, '0', 'left')"}}}},
                {"mark": {"type": "point", "shape": "M-1,-1L1,1M-1,1L1,-1", "filled": false, "color": "#2a2c86", "strokeWidth": 2, "size": 70, "opacity": 1},
                 "encoding": {"y": {"field": "pce_c", "type": "quantitative", "scale": {"type": "log", "domain": [1e-14, 10], "nice": false}, "axis": {"orient": "right", "values": [1e-14, 1e-11, 1e-8, 1e-5, 0.01, 10], "title": "Concentration (ug/L)", "titleAngle": 270, "labelExpr": "'1.0E' + (round(log(datum.value) / LN10) >= 0 ? '+' : '-') + pad(toString(abs(round(log(datum.value) / LN10))), 2, '0', 'left')"}}}},
                {"mark": {"type": "line", "color": "#f0b429", "strokeWidth": 3, "interpolate": "monotone", "clip": true},
                 "encoding": {"y": {"field": "tce_c", "type": "quantitative", "scale": {"type": "log", "domain": [1e-14, 10], "nice": false}, "axis": {"orient": "right", "values": [1e-14, 1e-11, 1e-8, 1e-5, 0.01, 10], "title": "Concentration (ug/L)", "titleAngle": 270, "labelExpr": "'1.0E' + (round(log(datum.value) / LN10) >= 0 ? '+' : '-') + pad(toString(abs(round(log(datum.value) / LN10))), 2, '0', 'left')"}}}},
                {"mark": {"type": "point", "shape": "M-1,0H1M0,-1V1", "filled": false, "color": "#2e9e46", "strokeWidth": 1.5, "size": 70, "opacity": 1},
                 "encoding": {"y": {"field": "tce_c", "type": "quantitative", "scale": {"type": "log", "domain": [1e-14, 10], "nice": false}, "axis": {"orient": "right", "values": [1e-14, 1e-11, 1e-8, 1e-5, 0.01, 10], "title": "Concentration (ug/L)", "titleAngle": 270, "labelExpr": "'1.0E' + (round(log(datum.value) / LN10) >= 0 ? '+' : '-') + pad(toString(abs(round(log(datum.value) / LN10))), 2, '0', 'left')"}}}},
                {"transform": [{"filter": "false"}],
                 "mark": {"type": "point", "filled": true, "strokeWidth": 1.8},
                 "encoding": {
                   "stroke": {"field": "series", "type": "nominal", "scale": {"domain": ["PCE travel time (yr)", "TCE travel time (yr)", "PCE conc. (ug/L)", "TCE conc. (ug/L)", "PCE/TCE MCL (ug/L)"], "range": ["#22308c", "#8fb8e8", "#a6b28f", "#f0b429", "#1a1a1a"]},
                     "legend": {"title": null, "orient": "top-right", "offset": 17, "padding": 8, "strokeColor": "#333", "fillColor": "#ffffff", "symbolSize": 1600, "symbolStrokeWidth": 1.8, "clipHeight": 16, "rowPadding": 7.5, "labelFont": "Lato", "labelFontSize": 14, "labelFontWeight": "bold", "labelColor": "#1a1a1a", "labelOffset": 4, "labelLimit": 300}},
                   "fill": {"field": "series", "type": "nominal", "scale": {"domain": ["PCE travel time (yr)", "TCE travel time (yr)", "PCE conc. (ug/L)", "TCE conc. (ug/L)", "PCE/TCE MCL (ug/L)"], "range": ["#b8d0f0", "#c0186a", "#2a2c86", "#2e9e46", "transparent"]},
                     "legend": {"title": null, "orient": "top-right", "offset": 17, "padding": 8, "strokeColor": "#333", "fillColor": "#ffffff", "symbolSize": 1600, "symbolStrokeWidth": 1.8, "clipHeight": 16, "rowPadding": 7.5, "labelFont": "Lato", "labelFontSize": 14, "labelFontWeight": "bold", "labelColor": "#1a1a1a", "labelOffset": 4, "labelLimit": 300}},
                   "shape": {"field": "series", "type": "nominal", "scale": {"domain": ["PCE travel time (yr)", "TCE travel time (yr)", "PCE conc. (ug/L)", "TCE conc. (ug/L)", "PCE/TCE MCL (ug/L)"], "range": ["M-1,0H-0.2M0.2,0H1M0,-0.2L0.2,0L0,0.2L-0.2,0Z", "M-1,0H-0.18M0.18,0H1M0.18,0A0.18,0.18 0 1,1 -0.18,0A0.18,0.18 0 1,1 0.18,0Z", "M-1,0H-0.3M0.3,0H1M0.127,0.297L0.297,0.127L-0.127,-0.297L-0.297,-0.127ZM0.127,-0.297L-0.297,0.127L-0.127,0.297L0.297,-0.127Z", "M-1,0H-0.28M0.28,0H1M-0.11,-0.28H0.11V-0.11H0.28V0.11H0.11V0.28H-0.11V0.11H-0.28V-0.11H-0.11Z", "M-1,0H1"]},
                     "legend": {"title": null, "orient": "top-right", "offset": 17, "padding": 8, "strokeColor": "#333", "fillColor": "#ffffff", "symbolSize": 1600, "symbolStrokeWidth": 1.8, "clipHeight": 16, "rowPadding": 7.5, "labelFont": "Lato", "labelFontSize": 14, "labelFontWeight": "bold", "labelColor": "#1a1a1a", "labelOffset": 4, "labelLimit": 300}},
                   "strokeDash": {"field": "series", "type": "nominal", "scale": {"domain": ["PCE travel time (yr)", "TCE travel time (yr)", "PCE conc. (ug/L)", "TCE conc. (ug/L)", "PCE/TCE MCL (ug/L)"], "range": [[1, 0], [1, 0], [1, 0], [1, 0], [4, 2.5]]},
                     "legend": {"title": null, "orient": "top-right", "offset": 17, "padding": 8, "strokeColor": "#333", "fillColor": "#ffffff", "symbolSize": 1600, "symbolStrokeWidth": 1.8, "clipHeight": 16, "rowPadding": 7.5, "labelFont": "Lato", "labelFontSize": 14, "labelFontWeight": "bold", "labelColor": "#1a1a1a", "labelOffset": 4, "labelLimit": 300}}
                 }}
              ]
            },
            {"data": {"name": "mcl"}, "transform": [{"filter": "datum.panel === 'thick'"}],
             "mark": {"type": "rule", "color": "#222", "strokeWidth": 2, "strokeDash": [4, 3]},
             "encoding": {"y": {"field": "mcl", "type": "quantitative", "scale": {"type": "log", "domain": [1e-14, 10], "nice": false}, "axis": null}}}
          ],
          "resolve": {"scale": {"y": "independent"}}
        }
      ]
    },
    {
      "spacing": 98,
      "resolve": {"scale": {"stroke": "independent", "fill": "independent", "shape": "independent", "strokeDash": "independent"}},
      "hconcat": [
        {
          "title": {"text": "Source Length"},
          "width": 495, "height": 192,
          "transform": [{"filter": "datum.panel === 'len'"}],
          "layer": [
            {
              "encoding": {"x": {"field": "x", "type": "quantitative", "scale": {"domain": [0, 2000], "nice": false, "zero": false}, "axis": {"values": [0, 500, 1000, 1500, 2000], "format": "d", "title": "Length (ft)"}}},
              "layer": [
                {"mark": {"type": "rect", "filled": false, "stroke": "#111", "strokeWidth": 3, "clip": false},
                 "encoding": {"x": {"datum": -400, "type": "quantitative", "scale": {"domain": [0, 2000], "nice": false, "zero": false}, "axis": {"values": [0, 500, 1000, 1500, 2000], "format": "d", "title": "Length (ft)"}}, "x2": {"datum": 2464.6},
                   "y": {"datum": 7719, "type": "quantitative", "scale": {"domain": [0, 6000], "nice": false, "zero": false}, "axis": {"orient": "left", "values": [0, 1000, 2000, 3000, 4000, 5000, 6000], "format": "d", "title": "Mean travel time (yr)"}}, "y2": {"datum": -1969}}},
                {"mark": {"type": "line", "color": "#4a72c0", "strokeWidth": 2},
                 "encoding": {"y": {"field": "pce_tt", "type": "quantitative", "scale": {"domain": [0, 6000], "nice": false, "zero": false}, "axis": {"orient": "left", "values": [0, 1000, 2000, 3000, 4000, 5000, 6000], "format": "d", "title": "Mean travel time (yr)"}}}},
                {"mark": {"type": "point", "shape": "diamond", "filled": true, "color": "#a9c6ee", "size": 25, "opacity": 1},
                 "encoding": {"y": {"field": "pce_tt", "type": "quantitative", "scale": {"domain": [0, 6000], "nice": false, "zero": false}, "axis": {"orient": "left", "values": [0, 1000, 2000, 3000, 4000, 5000, 6000], "format": "d", "title": "Mean travel time (yr)"}}}},
                {"mark": {"type": "line", "color": "#8fb8e8", "strokeWidth": 2.5},
                 "encoding": {"y": {"field": "tce_tt", "type": "quantitative", "scale": {"domain": [0, 6000], "nice": false, "zero": false}, "axis": {"orient": "left", "values": [0, 1000, 2000, 3000, 4000, 5000, 6000], "format": "d", "title": "Mean travel time (yr)"}}}},
                {"mark": {"type": "point", "shape": "circle", "filled": true, "fill": "#c0186a", "stroke": "#f2a9cd", "strokeWidth": 2.5, "size": 45, "opacity": 1},
                 "encoding": {"y": {"field": "tce_tt", "type": "quantitative", "scale": {"domain": [0, 6000], "nice": false, "zero": false}, "axis": {"orient": "left", "values": [0, 1000, 2000, 3000, 4000, 5000, 6000], "format": "d", "title": "Mean travel time (yr)"}}}}
              ]
            },
            {
              "encoding": {"x": {"field": "x", "type": "quantitative", "scale": {"domain": [0, 2000], "nice": false, "zero": false}, "axis": {"values": [0, 500, 1000, 1500, 2000], "format": "d", "title": "Length (ft)"}}},
              "layer": [
                {"mark": {"type": "line", "color": "#a6b28f", "strokeWidth": 2.5, "interpolate": "monotone", "clip": true},
                 "encoding": {"y": {"field": "pce_c", "type": "quantitative", "scale": {"type": "log", "domain": [1e-14, 10], "nice": false}, "axis": {"orient": "right", "values": [1e-14, 1e-11, 1e-8, 1e-5, 0.01, 10], "title": "Concentration (ug/L)", "titleAngle": 270, "labelExpr": "'1.0E' + (round(log(datum.value) / LN10) >= 0 ? '+' : '-') + pad(toString(abs(round(log(datum.value) / LN10))), 2, '0', 'left')"}}}},
                {"mark": {"type": "point", "shape": "M-1,-1L1,1M-1,1L1,-1", "filled": false, "color": "#2a2c86", "strokeWidth": 2, "size": 70, "opacity": 1},
                 "encoding": {"y": {"field": "pce_c", "type": "quantitative", "scale": {"type": "log", "domain": [1e-14, 10], "nice": false}, "axis": {"orient": "right", "values": [1e-14, 1e-11, 1e-8, 1e-5, 0.01, 10], "title": "Concentration (ug/L)", "titleAngle": 270, "labelExpr": "'1.0E' + (round(log(datum.value) / LN10) >= 0 ? '+' : '-') + pad(toString(abs(round(log(datum.value) / LN10))), 2, '0', 'left')"}}}},
                {"mark": {"type": "line", "color": "#f0b429", "strokeWidth": 3, "interpolate": "monotone", "clip": true},
                 "encoding": {"y": {"field": "tce_c", "type": "quantitative", "scale": {"type": "log", "domain": [1e-14, 10], "nice": false}, "axis": {"orient": "right", "values": [1e-14, 1e-11, 1e-8, 1e-5, 0.01, 10], "title": "Concentration (ug/L)", "titleAngle": 270, "labelExpr": "'1.0E' + (round(log(datum.value) / LN10) >= 0 ? '+' : '-') + pad(toString(abs(round(log(datum.value) / LN10))), 2, '0', 'left')"}}}},
                {"mark": {"type": "point", "shape": "M-1,0H1M0,-1V1", "filled": false, "color": "#2e9e46", "strokeWidth": 1.5, "size": 70, "opacity": 1},
                 "encoding": {"y": {"field": "tce_c", "type": "quantitative", "scale": {"type": "log", "domain": [1e-14, 10], "nice": false}, "axis": {"orient": "right", "values": [1e-14, 1e-11, 1e-8, 1e-5, 0.01, 10], "title": "Concentration (ug/L)", "titleAngle": 270, "labelExpr": "'1.0E' + (round(log(datum.value) / LN10) >= 0 ? '+' : '-') + pad(toString(abs(round(log(datum.value) / LN10))), 2, '0', 'left')"}}}},
                {"transform": [{"filter": "false"}],
                 "mark": {"type": "point", "filled": true, "strokeWidth": 1.8},
                 "encoding": {
                   "stroke": {"field": "series", "type": "nominal", "scale": {"domain": ["PCE travel time (yr)", "TCE travel time (yr)", "PCE conc. (ug/L)", "TCE Conc. (ug/L)", "PCE/TCE MCL (ug/L)"], "range": ["#3a62b8", "#c8d8ea", "#a6b28f", "#f0b429", "#1a1a1a"]},
                     "legend": {"title": null, "orient": "top-right", "offset": 14, "padding": 8, "strokeColor": "#333", "fillColor": "#ffffff", "symbolSize": 1600, "symbolStrokeWidth": 1.8, "clipHeight": 16, "rowPadding": 10, "labelFont": "Lato", "labelFontSize": 14, "labelFontWeight": "bold", "labelColor": "#1a1a1a", "labelOffset": 4, "labelLimit": 300}},
                   "fill": {"field": "series", "type": "nominal", "scale": {"domain": ["PCE travel time (yr)", "TCE travel time (yr)", "PCE conc. (ug/L)", "TCE Conc. (ug/L)", "PCE/TCE MCL (ug/L)"], "range": ["#b8d0f0", "#c0186a", "#2a2c86", "#2e9e46", "transparent"]},
                     "legend": {"title": null, "orient": "top-right", "offset": 14, "padding": 8, "strokeColor": "#333", "fillColor": "#ffffff", "symbolSize": 1600, "symbolStrokeWidth": 1.8, "clipHeight": 16, "rowPadding": 10, "labelFont": "Lato", "labelFontSize": 14, "labelFontWeight": "bold", "labelColor": "#1a1a1a", "labelOffset": 4, "labelLimit": 300}},
                   "shape": {"field": "series", "type": "nominal", "scale": {"domain": ["PCE travel time (yr)", "TCE travel time (yr)", "PCE conc. (ug/L)", "TCE Conc. (ug/L)", "PCE/TCE MCL (ug/L)"], "range": ["M-1,0H-0.2M0.2,0H1M0,-0.2L0.2,0L0,0.2L-0.2,0Z", "M-1,0H-0.18M0.18,0H1M0.18,0A0.18,0.18 0 1,1 -0.18,0A0.18,0.18 0 1,1 0.18,0Z", "M-1,0H-0.3M0.3,0H1M0.127,0.297L0.297,0.127L-0.127,-0.297L-0.297,-0.127ZM0.127,-0.297L-0.297,0.127L-0.127,0.297L0.297,-0.127Z", "M-1,0H-0.28M0.28,0H1M-0.11,-0.28H0.11V-0.11H0.28V0.11H0.11V0.28H-0.11V0.11H-0.28V-0.11H-0.11Z", "M-1,0H1"]},
                     "legend": {"title": null, "orient": "top-right", "offset": 14, "padding": 8, "strokeColor": "#333", "fillColor": "#ffffff", "symbolSize": 1600, "symbolStrokeWidth": 1.8, "clipHeight": 16, "rowPadding": 10, "labelFont": "Lato", "labelFontSize": 14, "labelFontWeight": "bold", "labelColor": "#1a1a1a", "labelOffset": 4, "labelLimit": 300}},
                   "strokeDash": {"field": "series", "type": "nominal", "scale": {"domain": ["PCE travel time (yr)", "TCE travel time (yr)", "PCE conc. (ug/L)", "TCE Conc. (ug/L)", "PCE/TCE MCL (ug/L)"], "range": [[1, 0], [1, 0], [1, 0], [1, 0], [4, 2.5]]},
                     "legend": {"title": null, "orient": "top-right", "offset": 14, "padding": 8, "strokeColor": "#333", "fillColor": "#ffffff", "symbolSize": 1600, "symbolStrokeWidth": 1.8, "clipHeight": 16, "rowPadding": 10, "labelFont": "Lato", "labelFontSize": 14, "labelFontWeight": "bold", "labelColor": "#1a1a1a", "labelOffset": 4, "labelLimit": 300}}
                 }}
              ]
            },
            {"data": {"name": "mcl"}, "transform": [{"filter": "datum.panel === 'len'"}],
             "mark": {"type": "rule", "color": "#222", "strokeWidth": 2, "strokeDash": [4, 3]},
             "encoding": {"y": {"field": "mcl", "type": "quantitative", "scale": {"type": "log", "domain": [1e-14, 10], "nice": false}, "axis": null}}}
          ],
          "resolve": {"scale": {"y": "independent"}}
        },
        {
          "title": {"text": "Aquifer Horizontal Conductivity (Kh)"},
          "width": 495, "height": 192,
          "transform": [{"filter": "datum.panel === 'kh'"}],
          "layer": [
            {
              "encoding": {"x": {"field": "x", "type": "quantitative", "scale": {"domain": [0, 30000], "nice": false, "zero": false}, "axis": {"values": [0, 5000, 10000, 15000, 20000, 25000, 30000], "format": "d", "title": "Kh (ft/yr)"}}},
              "layer": [
                {"mark": {"type": "rect", "filled": false, "stroke": "#111", "strokeWidth": 3, "clip": false},
                 "encoding": {"x": {"datum": -6000, "type": "quantitative", "scale": {"domain": [0, 30000], "nice": false, "zero": false}, "axis": {"values": [0, 5000, 10000, 15000, 20000, 25000, 30000], "format": "d", "title": "Kh (ft/yr)"}}, "x2": {"datum": 36970},
                   "y": {"datum": 7719, "type": "quantitative", "scale": {"domain": [0, 6000], "nice": false, "zero": false}, "axis": {"orient": "left", "values": [0, 1000, 2000, 3000, 4000, 5000, 6000], "format": "d", "title": "Mean travel time (yr)"}}, "y2": {"datum": -1969}}},
                {"mark": {"type": "line", "color": "#22308c", "strokeWidth": 2},
                 "encoding": {"y": {"field": "pce_tt", "type": "quantitative", "scale": {"domain": [0, 6000], "nice": false, "zero": false}, "axis": {"orient": "left", "values": [0, 1000, 2000, 3000, 4000, 5000, 6000], "format": "d", "title": "Mean travel time (yr)"}}}},
                {"mark": {"type": "point", "shape": "diamond", "filled": true, "color": "#e8a0b8", "size": 25, "opacity": 1},
                 "encoding": {"y": {"field": "pce_tt", "type": "quantitative", "scale": {"domain": [0, 6000], "nice": false, "zero": false}, "axis": {"orient": "left", "values": [0, 1000, 2000, 3000, 4000, 5000, 6000], "format": "d", "title": "Mean travel time (yr)"}}}},
                {"mark": {"type": "line", "color": "#8fc0e0", "strokeWidth": 2.5},
                 "encoding": {"y": {"field": "tce_tt", "type": "quantitative", "scale": {"domain": [0, 6000], "nice": false, "zero": false}, "axis": {"orient": "left", "values": [0, 1000, 2000, 3000, 4000, 5000, 6000], "format": "d", "title": "Mean travel time (yr)"}}}},
                {"mark": {"type": "point", "shape": "circle", "filled": true, "fill": "#c0186a", "stroke": "#e3a5e0", "strokeWidth": 2.5, "size": 45, "opacity": 1},
                 "encoding": {"y": {"field": "tce_tt", "type": "quantitative", "scale": {"domain": [0, 6000], "nice": false, "zero": false}, "axis": {"orient": "left", "values": [0, 1000, 2000, 3000, 4000, 5000, 6000], "format": "d", "title": "Mean travel time (yr)"}}}}
              ]
            },
            {
              "encoding": {"x": {"field": "x", "type": "quantitative", "scale": {"domain": [0, 30000], "nice": false, "zero": false}, "axis": {"values": [0, 5000, 10000, 15000, 20000, 25000, 30000], "format": "d", "title": "Kh (ft/yr)"}}},
              "layer": [
                {"mark": {"type": "line", "color": "#a6b28f", "strokeWidth": 2.5, "interpolate": "monotone", "clip": true},
                 "encoding": {"y": {"field": "pce_c", "type": "quantitative", "scale": {"type": "log", "domain": [1e-14, 10], "nice": false}, "axis": {"orient": "right", "values": [1e-14, 1e-11, 1e-8, 1e-5, 0.01, 10], "title": "Concentration (ug/L)", "titleAngle": 270, "labelExpr": "'1.0E' + (round(log(datum.value) / LN10) >= 0 ? '+' : '-') + pad(toString(abs(round(log(datum.value) / LN10))), 2, '0', 'left')"}}}},
                {"mark": {"type": "point", "shape": "M-1,-1L1,1M-1,1L1,-1", "filled": false, "color": "#2a2c86", "strokeWidth": 2, "size": 70, "opacity": 1},
                 "encoding": {"y": {"field": "pce_c", "type": "quantitative", "scale": {"type": "log", "domain": [1e-14, 10], "nice": false}, "axis": {"orient": "right", "values": [1e-14, 1e-11, 1e-8, 1e-5, 0.01, 10], "title": "Concentration (ug/L)", "titleAngle": 270, "labelExpr": "'1.0E' + (round(log(datum.value) / LN10) >= 0 ? '+' : '-') + pad(toString(abs(round(log(datum.value) / LN10))), 2, '0', 'left')"}}}},
                {"mark": {"type": "line", "color": "#f0b429", "strokeWidth": 3, "interpolate": "monotone", "clip": true},
                 "encoding": {"y": {"field": "tce_c", "type": "quantitative", "scale": {"type": "log", "domain": [1e-14, 10], "nice": false}, "axis": {"orient": "right", "values": [1e-14, 1e-11, 1e-8, 1e-5, 0.01, 10], "title": "Concentration (ug/L)", "titleAngle": 270, "labelExpr": "'1.0E' + (round(log(datum.value) / LN10) >= 0 ? '+' : '-') + pad(toString(abs(round(log(datum.value) / LN10))), 2, '0', 'left')"}}}},
                {"mark": {"type": "point", "shape": "M-1,0H1M0,-1V1", "filled": false, "color": "#2e9e46", "strokeWidth": 1.5, "size": 70, "opacity": 1},
                 "encoding": {"y": {"field": "tce_c", "type": "quantitative", "scale": {"type": "log", "domain": [1e-14, 10], "nice": false}, "axis": {"orient": "right", "values": [1e-14, 1e-11, 1e-8, 1e-5, 0.01, 10], "title": "Concentration (ug/L)", "titleAngle": 270, "labelExpr": "'1.0E' + (round(log(datum.value) / LN10) >= 0 ? '+' : '-') + pad(toString(abs(round(log(datum.value) / LN10))), 2, '0', 'left')"}}}},
                {"transform": [{"filter": "false"}],
                 "mark": {"type": "point", "filled": true, "strokeWidth": 1.8},
                 "encoding": {
                   "stroke": {"field": "series", "type": "nominal", "scale": {"domain": ["PCE travel time (yr)", "TCE travel time (yr)", "PCE conc. (ug/L)", "TCE conc. (ug/L)", "PCE/TCE MCL (ug/L)"], "range": ["#22308c", "#b49be0", "#a6b28f", "#f0b429", "#1a1a1a"]},
                     "legend": {"title": null, "orient": "top-right", "offset": 15, "padding": 8, "strokeColor": "#333", "fillColor": "#ffffff", "symbolSize": 1600, "symbolStrokeWidth": 1.8, "clipHeight": 16, "rowPadding": 8.5, "labelFont": "Lato", "labelFontSize": 14, "labelFontWeight": "bold", "labelColor": "#1a1a1a", "labelOffset": 4, "labelLimit": 300}},
                   "fill": {"field": "series", "type": "nominal", "scale": {"domain": ["PCE travel time (yr)", "TCE travel time (yr)", "PCE conc. (ug/L)", "TCE conc. (ug/L)", "PCE/TCE MCL (ug/L)"], "range": ["#e8a0b8", "#c0186a", "#2a2c86", "#2e9e46", "transparent"]},
                     "legend": {"title": null, "orient": "top-right", "offset": 15, "padding": 8, "strokeColor": "#333", "fillColor": "#ffffff", "symbolSize": 1600, "symbolStrokeWidth": 1.8, "clipHeight": 16, "rowPadding": 8.5, "labelFont": "Lato", "labelFontSize": 14, "labelFontWeight": "bold", "labelColor": "#1a1a1a", "labelOffset": 4, "labelLimit": 300}},
                   "shape": {"field": "series", "type": "nominal", "scale": {"domain": ["PCE travel time (yr)", "TCE travel time (yr)", "PCE conc. (ug/L)", "TCE conc. (ug/L)", "PCE/TCE MCL (ug/L)"], "range": ["M-1,0H-0.2M0.2,0H1M0,-0.2L0.2,0L0,0.2L-0.2,0Z", "M-1,0H-0.18M0.18,0H1M0.18,0A0.18,0.18 0 1,1 -0.18,0A0.18,0.18 0 1,1 0.18,0Z", "M-1,0H-0.3M0.3,0H1M0.127,0.297L0.297,0.127L-0.127,-0.297L-0.297,-0.127ZM0.127,-0.297L-0.297,0.127L-0.127,0.297L0.297,-0.127Z", "M-1,0H-0.28M0.28,0H1M-0.11,-0.28H0.11V-0.11H0.28V0.11H0.11V0.28H-0.11V0.11H-0.28V-0.11H-0.11Z", "M-1,0H1"]},
                     "legend": {"title": null, "orient": "top-right", "offset": 15, "padding": 8, "strokeColor": "#333", "fillColor": "#ffffff", "symbolSize": 1600, "symbolStrokeWidth": 1.8, "clipHeight": 16, "rowPadding": 8.5, "labelFont": "Lato", "labelFontSize": 14, "labelFontWeight": "bold", "labelColor": "#1a1a1a", "labelOffset": 4, "labelLimit": 300}},
                   "strokeDash": {"field": "series", "type": "nominal", "scale": {"domain": ["PCE travel time (yr)", "TCE travel time (yr)", "PCE conc. (ug/L)", "TCE conc. (ug/L)", "PCE/TCE MCL (ug/L)"], "range": [[1, 0], [1, 0], [1, 0], [1, 0], [4, 2.5]]},
                     "legend": {"title": null, "orient": "top-right", "offset": 15, "padding": 8, "strokeColor": "#333", "fillColor": "#ffffff", "symbolSize": 1600, "symbolStrokeWidth": 1.8, "clipHeight": 16, "rowPadding": 8.5, "labelFont": "Lato", "labelFontSize": 14, "labelFontWeight": "bold", "labelColor": "#1a1a1a", "labelOffset": 4, "labelLimit": 300}}
                 }}
              ]
            },
            {"data": {"name": "mcl"}, "transform": [{"filter": "datum.panel === 'kh'"}],
             "mark": {"type": "rule", "color": "#222", "strokeWidth": 2, "strokeDash": [4, 3]},
             "encoding": {"y": {"field": "mcl", "type": "quantitative", "scale": {"type": "log", "domain": [1e-14, 10], "nice": false}, "axis": null}}}
          ],
          "resolve": {"scale": {"y": "independent"}}
        }
      ]
    }
  ],
  "config": {
    "font": "Lato",
    "view": {"stroke": "#555", "strokeWidth": 2},
    "title": {"font": "Lato", "fontSize": 18.5, "fontWeight": "bold", "color": "#1a1a1a", "offset": -35},
    "axis": {"labelFont": "Lato", "labelFontSize": 15, "labelFontWeight": "bold", "labelColor": "#1a1a1a", "titleFont": "Lato", "titleFontSize": 16.5, "titleFontWeight": "bold", "titleColor": "#1a1a1a", "domainColor": "#333", "domainWidth": 2, "gridColor": "#d6d6d6", "gridWidth": 1, "ticks": false},
    "axisBottom": {"grid": true, "labelFlush": false, "labelPadding": 14, "titlePadding": 7},
    "axisLeft": {"grid": true, "labelPadding": 18, "titlePadding": 18},
    "axisRight": {"grid": false, "ticks": true, "tickSize": 6, "tickWidth": 1.5, "tickColor": "#333", "labelPadding": 11, "titlePadding": 32}
  }
}
